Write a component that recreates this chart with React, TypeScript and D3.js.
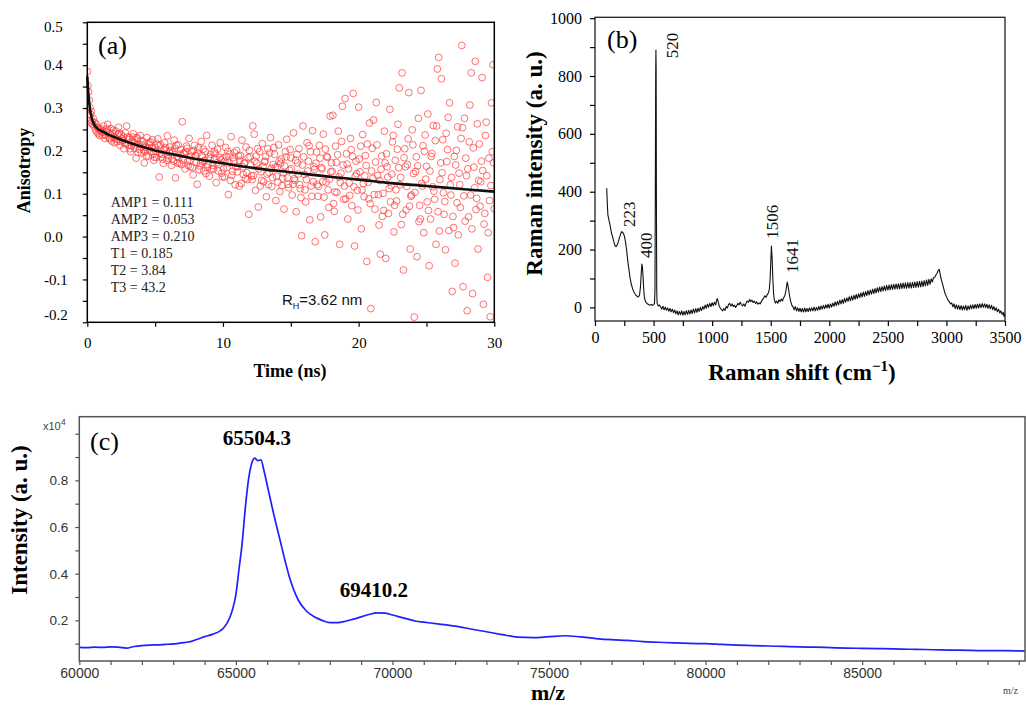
import React, { useEffect, useRef } from 'react';
import * as d3 from 'd3';

const serif = '"Liberation Serif", "Times New Roman", serif';
const sans = '"Liberation Sans", Arial, sans-serif';

// ---------- (a) fluorescence anisotropy decay ----------
const anisoPoints: [number, number][] = [
  [0, 0.385], [0.05, 0.352], [0.1, 0.338], [0.1, 0.285], [0.15, 0.318], [0.2, 0.301], [0.25, 0.285], [0.3, 0.292],
  [0.3, 0.265], [0.35, 0.27], [0.4, 0.262], [0.45, 0.275], [0.5, 0.258], [0.55, 0.266], [0.6, 0.249], [0.65, 0.262],
  [0.7, 0.244], [0.75, 0.255], [0.8, 0.24], [0.85, 0.251], [0.9, 0.236], [0.95, 0.248],
  [1.0, 0.252], [1.1, 0.236], [1.2, 0.258], [1.3, 0.229], [1.4, 0.245], [1.5, 0.262], [1.6, 0.231], [1.7, 0.24], [1.8, 0.223], [1.9, 0.248],
  [2.0, 0.219], [2.1, 0.246], [2.2, 0.227], [2.3, 0.255], [2.4, 0.213], [2.5, 0.238], [2.6, 0.224], [2.7, 0.205], [2.8, 0.242], [2.9, 0.258],
  [3.0, 0.213], [3.1, 0.231], [3.2, 0.198], [3.3, 0.222], [3.4, 0.24], [3.5, 0.206], [3.6, 0.183], [3.7, 0.228], [3.8, 0.215], [3.9, 0.236],
  [4.0, 0.195], [4.1, 0.222], [4.2, 0.172], [4.3, 0.209], [4.4, 0.231], [4.5, 0.188], [4.6, 0.214], [4.7, 0.199], [4.8, 0.226], [4.9, 0.178],
  [5.0, 0.207], [5.1, 0.185], [5.2, 0.228], [5.3, 0.139], [5.4, 0.214], [5.5, 0.192], [5.6, 0.171], [5.7, 0.219], [5.8, 0.201], [5.9, 0.235],
  [6.0, 0.182], [6.1, 0.209], [6.2, 0.166], [6.3, 0.198], [6.4, 0.225], [6.5, 0.137], [6.6, 0.187], [6.7, 0.214], [6.8, 0.171], [6.9, 0.203],
  [7.0, 0.268], [7.1, 0.195], [7.2, 0.158], [7.3, 0.211], [7.4, 0.176], [7.5, 0.229], [7.6, 0.163], [7.7, 0.198], [7.8, 0.144], [7.9, 0.213],
  [8.0, 0.189], [8.1, 0.122], [8.2, 0.207], [8.3, 0.165], [8.4, 0.222], [8.5, 0.175], [8.6, 0.153], [8.7, 0.198], [8.8, 0.236], [8.9, 0.168],
  [9.0, 0.141], [9.1, 0.192], [9.2, 0.213], [9.3, 0.157], [9.4, 0.181], [9.5, 0.126], [9.6, 0.204], [9.7, 0.169], [9.8, 0.219], [9.9, 0.148],
  [10.0, 0.183], [10.1, 0.139], [10.2, 0.208], [10.3, 0.161], [10.4, 0.098], [10.5, 0.192], [10.6, 0.233], [10.7, 0.152], [10.8, 0.176], [10.9, 0.121],
  [11.0, 0.201], [11.1, 0.163], [11.2, 0.118], [11.3, 0.189], [11.4, 0.225], [11.5, 0.145], [11.6, 0.172], [11.7, 0.209], [11.8, 0.133], [11.9, 0.052],
  [12.0, 0.186], [12.1, 0.142], [12.2, 0.258], [12.3, 0.239], [12.4, 0.108], [12.5, 0.171], [12.6, 0.069], [12.7, 0.198], [12.8, 0.151], [12.9, 0.217],
  [13.0, 0.128], [13.1, 0.176], [13.2, 0.093], [13.3, 0.205], [13.4, 0.149], [13.5, 0.231], [13.6, 0.117], [13.7, 0.168], [13.8, 0.192], [13.9, 0.084],
  [14.0, 0.162], [14.1, 0.214], [14.2, 0.105], [14.3, 0.181], [14.4, 0.136], [14.5, 0.064], [14.6, 0.198], [14.7, 0.227], [14.8, 0.122], [14.9, 0.155],
  [15.0, 0.184], [15.1, 0.097], [15.2, 0.242], [15.3, 0.131], [15.4, 0.058], [15.5, 0.172], [15.6, 0.205], [15.7, 0.112], [15.8, 0.002], [15.9, 0.258],
  [16.0, 0.145], [16.1, 0.081], [16.2, 0.219], [16.3, 0.176], [16.4, 0.039], [16.5, 0.118], [16.6, 0.247], [16.7, 0.163], [16.8, -0.012], [16.9, 0.197],
  [17.0, 0.094], [17.1, 0.213], [17.2, 0.046], [17.3, 0.158], [17.4, 0.239], [17.5, 0.004], [17.6, 0.127], [17.7, 0.185], [17.8, 0.068], [17.9, 0.281],
  [18.0, 0.172], [18.1, 0.283], [18.2, 0.059], [18.3, 0.211], [18.4, 0.103], [18.5, 0.246], [18.6, -0.018], [18.7, 0.148], [18.8, 0.304], [18.9, 0.087],
  [19.0, 0.322], [19.1, 0.193], [19.2, 0.041], [19.3, 0.125], [19.4, 0.229], [19.5, 0.072], [19.6, 0.334], [19.7, -0.022], [19.8, 0.176], [19.9, 0.108],
  [20.0, 0.302], [20.1, 0.151], [20.2, 0.018], [20.3, 0.238], [20.4, 0.093], [20.5, 0.189], [20.6, -0.058], [20.7, 0.127], [20.8, 0.265], [20.9, -0.168],
  [21.0, 0.206], [21.1, 0.272], [21.2, 0.064], [21.3, 0.313], [21.4, 0.142], [21.5, 0.027], [21.6, -0.041], [21.7, 0.188], [21.8, 0.101], [21.9, 0.246],
  [22.0, -0.051], [22.1, 0.163], [22.2, 0.054], [22.3, 0.297], [22.4, 0.119], [22.5, 0.221], [22.6, 0.011], [22.7, 0.178], [22.8, 0.083], [22.9, 0.262],
  [23.0, 0.347], [23.1, 0.138], [23.2, 0.382], [23.3, -0.078], [23.4, 0.205], [23.5, 0.062], [23.6, 0.168], [23.7, 0.336], [23.8, -0.029], [23.9, 0.097],
  [24.0, 0.214], [24.1, -0.188], [24.2, 0.152], [24.3, -0.047], [24.4, 0.276], [24.5, 0.073], [24.6, 0.341], [24.7, 0.118], [24.8, 0.009], [24.9, 0.237],
  [25.0, 0.164], [25.1, 0.286], [25.2, -0.068], [25.3, 0.041], [25.4, 0.194], [25.5, 0.259], [25.6, 0.087], [25.7, -0.018], [25.8, 0.391], [25.9, 0.418],
  [26.0, 0.133], [26.1, 0.368], [26.2, 0.226], [26.3, 0.052], [26.4, -0.031], [26.5, 0.175], [26.6, 0.278], [26.7, 0.312], [26.8, 0.097], [26.9, -0.128],
  [27.0, 0.021], [27.1, -0.062], [27.2, 0.201], [27.3, 0.256], [27.4, 0.148], [27.5, 0.068], [27.6, 0.446], [27.7, -0.117], [27.8, 0.276], [27.9, 0.183],
  [28.0, -0.173], [28.1, 0.046], [28.2, 0.307], [28.3, 0.382], [28.4, -0.133], [28.5, 0.162], [28.6, 0.409], [28.7, 0.089], [28.8, -0.029], [28.9, 0.216],
  [29.0, 0.128], [29.1, 0.371], [29.2, -0.158], [29.3, 0.054], [29.4, 0.267], [29.5, -0.095], [29.6, 0.183], [29.7, -0.187], [29.8, 0.312], [29.9, 0.401], [30.0, 0.065],
  [1.05, 0.244], [1.25, 0.239], [1.45, 0.251], [1.65, 0.228], [1.85, 0.241], [2.05, 0.229], [2.25, 0.238], [2.45, 0.222], [2.65, 0.233], [2.85, 0.216],
  [3.05, 0.226], [3.25, 0.212], [3.45, 0.219], [3.65, 0.231], [3.85, 0.203], [4.05, 0.214], [4.25, 0.198], [4.45, 0.207], [4.65, 0.221], [4.85, 0.193],
  [5.05, 0.199], [5.25, 0.212], [5.45, 0.186], [5.65, 0.203], [5.85, 0.178], [6.05, 0.197], [6.25, 0.181], [6.45, 0.206], [6.65, 0.172], [6.85, 0.192],
  [7.05, 0.178], [7.25, 0.199], [7.45, 0.166], [7.65, 0.187], [7.85, 0.201], [8.05, 0.173], [8.25, 0.156], [8.45, 0.189], [8.65, 0.178], [8.85, 0.162],
  [9.05, 0.182], [9.25, 0.166], [9.45, 0.194], [9.65, 0.153], [9.85, 0.179], [10.05, 0.158], [10.25, 0.187], [10.45, 0.172], [10.65, 0.143], [10.85, 0.196],
  [11.05, 0.151], [11.25, 0.178], [11.45, 0.163], [11.65, 0.136], [11.85, 0.184], [12.05, 0.167], [12.25, 0.142], [12.45, 0.188], [12.65, 0.158], [12.85, 0.131],
  [13.05, 0.174], [13.25, 0.146], [13.45, 0.195], [13.65, 0.138], [13.85, 0.162], [14.05, 0.127], [14.25, 0.171], [14.45, 0.149], [14.65, 0.186], [14.85, 0.114],
  [15.05, 0.158], [15.25, 0.135], [15.45, 0.192], [15.65, 0.121], [15.85, 0.167], [16.05, 0.109], [16.25, 0.153], [16.45, 0.198], [16.65, 0.128], [16.85, 0.171],
  [17.05, 0.117], [17.25, 0.161], [17.45, 0.092], [17.65, 0.187], [17.85, 0.134], [18.05, 0.152], [18.25, 0.104], [18.45, 0.191], [18.65, 0.126], [18.85, 0.167],
  [19.05, 0.088], [19.25, 0.158], [19.45, 0.203], [19.65, 0.116], [19.85, 0.147], [20.05, 0.181], [20.25, 0.109], [20.45, 0.142], [20.65, 0.216], [20.85, 0.077],
  [21.05, 0.136], [21.25, 0.174], [21.45, 0.098], [21.65, 0.157], [21.85, 0.061], [22.05, 0.193], [22.25, 0.112], [22.45, 0.146], [22.65, 0.073], [22.85, 0.204],
  [23.05, 0.121], [23.25, 0.052], [23.45, 0.163], [23.65, 0.228], [23.85, 0.094], [24.05, 0.147], [24.25, 0.186], [24.45, 0.035], [24.65, 0.124], [24.85, 0.199],
  [25.05, 0.081], [25.25, 0.153], [25.45, 0.116], [25.65, 0.224], [25.85, 0.058], [26.05, 0.172], [26.25, 0.102], [26.45, 0.241], [26.65, 0.014], [26.85, 0.138],
  [27.05, 0.187], [27.25, 0.079], [27.45, 0.121], [27.65, 0.254], [27.85, 0.036], [28.05, 0.158], [28.25, 0.097], [28.45, 0.207], [28.65, 0.063], [28.85, 0.131],
  [29.05, 0.176], [29.25, 0.029], [29.45, 0.142], [29.65, 0.084], [29.85, 0.198],
  [1.15, 0.247], [1.35, 0.236], [1.55, 0.243], [1.75, 0.252], [1.95, 0.232], [2.15, 0.221], [2.35, 0.241], [2.55, 0.228], [2.75, 0.219], [2.95, 0.232],
  [3.15, 0.205], [3.35, 0.232], [3.55, 0.214], [3.75, 0.196], [3.95, 0.224], [4.15, 0.203], [4.35, 0.188], [4.55, 0.219], [4.75, 0.207], [4.95, 0.185],
  [5.15, 0.216], [5.35, 0.194], [5.55, 0.181], [5.75, 0.208], [5.95, 0.189], [6.15, 0.201], [6.35, 0.176], [6.55, 0.213], [6.75, 0.184], [6.95, 0.168],
  [7.15, 0.193], [7.35, 0.206], [7.55, 0.177], [7.75, 0.161], [7.95, 0.189], [8.15, 0.195], [8.35, 0.171], [8.55, 0.204], [8.75, 0.147], [8.95, 0.186],
  [9.15, 0.158], [9.35, 0.198], [9.55, 0.172], [9.75, 0.185], [9.95, 0.139], [10.15, 0.176], [10.35, 0.199], [10.55, 0.131], [10.75, 0.184], [10.95, 0.163],
  [11.15, 0.188], [11.35, 0.124], [11.55, 0.171], [11.75, 0.149], [11.95, 0.201], [12.15, 0.133], [12.35, 0.176], [12.55, 0.205], [12.75, 0.118], [12.95, 0.164],
  [13.15, 0.187], [13.35, 0.121], [13.55, 0.159], [13.75, 0.208], [13.95, 0.141], [14.15, 0.176], [14.35, 0.119], [14.55, 0.165], [14.75, 0.137], [14.95, 0.203],
  [15.15, 0.122], [15.35, 0.178], [15.55, 0.146], [15.75, 0.091], [15.95, 0.186], [16.15, 0.133], [16.35, 0.212], [16.55, 0.094], [16.75, 0.157], [16.95, 0.121],
  [17.15, 0.183], [17.35, 0.128], [17.55, 0.204], [17.75, 0.109], [17.95, 0.151], [18.15, 0.077], [18.35, 0.173], [18.55, 0.139], [18.75, 0.222], [18.95, 0.118],
  [19.15, 0.169], [19.35, 0.096], [19.55, 0.187], [19.75, 0.141], [19.95, 0.062], [20.15, 0.211], [20.35, 0.124], [20.55, 0.166], [20.75, 0.088], [20.95, 0.153],
  [21.15, 0.098], [21.35, 0.214], [21.55, 0.131], [21.75, 0.047], [21.95, 0.172], [22.15, 0.139], [22.35, 0.081], [22.55, 0.236], [22.75, 0.109], [22.95, 0.161],
  [23.15, 0.028], [23.35, 0.184], [23.55, 0.117], [23.75, 0.071], [23.95, 0.249], [24.15, 0.103], [24.35, 0.165], [24.55, 0.041], [24.75, 0.212], [24.95, 0.134],
  [25.15, 0.061], [25.35, 0.187], [25.55, 0.106], [25.75, 0.258], [25.95, 0.013], [26.15, 0.149], [26.35, 0.082], [26.55, 0.203], [26.75, 0.121], [26.95, 0.047],
  [27.15, 0.167], [27.35, 0.004], [27.55, 0.229], [27.75, 0.095], [27.95, 0.142], [28.15, 0.221], [28.35, 0.018], [28.55, 0.114], [28.75, 0.263], [28.95, 0.071],
  [29.15, 0.154], [29.35, 0.236], [29.55, 0.009], [29.75, 0.119], [29.95, 0.172],
];
const fitTime = [0, 0.05, 0.1, 0.2, 0.3, 0.4, 0.5, 0.75, 1, 1.5, 2, 3, 4, 5, 6, 8, 10, 12, 15, 18, 20, 22, 25, 28, 30];
const fitAniso = [0.374, 0.347, 0.326, 0.297, 0.28, 0.269, 0.262, 0.252, 0.247, 0.239, 0.232, 0.22, 0.21, 0.201, 0.194, 0.181, 0.171, 0.161, 0.15, 0.139, 0.133, 0.126, 0.118, 0.11, 0.105];
const fitParams = ['AMP1 = 0.111', 'AMP2 = 0.053', 'AMP3 = 0.210', 'T1 = 0.185', 'T2 = 3.84', 'T3 = 43.2'];
const timeTicks = [0, 10, 20, 30];
const timeMinor = [5, 15, 25];
const anisoTicks = [-0.2, -0.1, 0, 0.1, 0.2, 0.3, 0.4, 0.5];
const anisoMinor = [-0.15, -0.05, 0.05, 0.15, 0.25, 0.35, 0.45];

// ---------- (b) Raman spectrum ----------
const ramanPoints: [number, number][] = [
  [100, 412], [105, 360], [110, 320], [120, 300], [130, 282], [140, 258], [150, 245], [160, 228], [170, 214], [180, 210], [190, 216],
  [200, 228], [210, 242], [220, 255], [230, 262], [240, 258], [250, 248], [260, 228], [270, 198], [280, 160], [290, 130], [300, 100],
  [310, 80], [320, 66], [330, 55], [340, 48], [350, 42], [360, 38], [370, 36], [380, 42], [388, 70], [395, 120], [400, 150], [405, 140],
  [410, 108], [415, 70], [420, 40], [425, 28], [432, 20], [440, 15], [450, 12], [460, 9], [470, 8], [480, 10], [490, 7], [500, 9],
  [508, 14], [512, 60], [515, 400], [518, 800], [520, 890], [522, 820], [524, 400], [527, 60], [530, 15], [540, 5], [550, 8],
  [560, 2], [570, -6], [580, 4], [590, -8], [600, 1], [610, -10], [620, -2], [630, -13], [640, -4], [650, -15], [660, -6], [670, -18],
  [680, -9], [690, -22], [700, -12], [710, -26], [720, -14], [730, -25], [740, -12], [750, -27], [760, -14], [770, -26], [780, -11],
  [790, -24], [800, -10], [810, -23], [820, -9], [830, -21], [840, -6], [850, -19], [860, -4], [870, -17], [880, -3], [890, -14],
  [900, 0], [910, -11], [920, 3], [930, -6], [940, 8], [950, -3], [960, 11], [970, 1], [980, 14], [990, 3], [1000, 16], [1010, 6],
  [1020, 18], [1030, 9], [1040, 28], [1045, 30], [1050, 22], [1060, 5], [1070, -2], [1080, -8], [1090, -12], [1100, -4], [1110, -10], [1120, 3],
  [1130, -2], [1140, 10], [1150, 14], [1160, 5], [1170, 12], [1180, 3], [1190, 8], [1200, 0], [1210, 6], [1220, 14], [1230, 9],
  [1240, 18], [1250, 10], [1260, 5], [1270, 12], [1280, 4], [1290, 15], [1300, 22], [1310, 18], [1320, 27], [1330, 20], [1340, 25],
  [1350, 17], [1360, 22], [1370, 14], [1380, 19], [1390, 11], [1400, 16], [1410, 12], [1420, 20], [1430, 27], [1440, 33], [1450, 40],
  [1460, 35], [1470, 44], [1480, 50], [1488, 62], [1495, 98], [1500, 150], [1506, 212], [1512, 170], [1518, 100], [1524, 50], [1530, 28],
  [1540, 15], [1550, 22], [1560, 14], [1570, 26], [1580, 20], [1590, 29], [1600, 22], [1610, 33], [1620, 40], [1630, 58], [1641, 88],
  [1650, 70], [1660, 42], [1670, 22], [1680, 8], [1690, 2], [1700, -8], [1710, 3], [1720, -12], [1730, -1], [1740, -14], [1750, -3],
  [1760, -15], [1770, -4], [1780, -16], [1790, -2], [1800, -15], [1810, -4], [1820, -14], [1830, -2], [1840, -13], [1850, -1],
  [1860, -12], [1870, 1], [1880, -12], [1890, 0], [1900, -10], [1910, 3], [1920, -8], [1930, 5], [1940, -6], [1950, 7], [1960, -4],
  [1970, 9], [1980, -2], [1990, 11], [2000, -2], [2010, 12], [2020, 1], [2030, 15], [2040, 4], [2050, 19], [2060, 6], [2070, 21],
  [2080, 9], [2090, 25], [2100, 12], [2110, 27], [2120, 14], [2130, 31], [2140, 18], [2150, 33], [2160, 21], [2170, 37], [2180, 23],
  [2190, 39], [2200, 25], [2210, 42], [2220, 28], [2230, 45], [2240, 30], [2250, 47], [2260, 34], [2270, 50], [2280, 36], [2290, 53],
  [2300, 38], [2310, 55], [2320, 41], [2330, 58], [2340, 43], [2350, 60], [2360, 46], [2370, 63], [2380, 48], [2390, 65], [2400, 50],
  [2410, 68], [2420, 53], [2430, 70], [2440, 55], [2450, 72], [2460, 57], [2470, 74], [2480, 58], [2490, 76], [2500, 60], [2510, 77],
  [2520, 61], [2530, 79], [2540, 62], [2550, 80], [2560, 63], [2570, 81], [2580, 64], [2590, 82], [2600, 64], [2610, 83], [2620, 65],
  [2630, 84], [2640, 66], [2650, 85], [2660, 66], [2670, 86], [2680, 67], [2690, 86], [2700, 67], [2710, 87], [2720, 68], [2730, 88],
  [2740, 69], [2750, 89], [2760, 70], [2770, 90], [2780, 71], [2790, 91], [2800, 72], [2810, 93], [2820, 74], [2830, 95], [2840, 76],
  [2850, 97], [2860, 80], [2870, 99], [2880, 88], [2890, 103], [2900, 104], [2910, 112], [2920, 118], [2930, 128], [2938, 132],
  [2945, 118], [2955, 98], [2965, 84], [2975, 68], [2985, 52], [2995, 42], [3005, 33], [3015, 24], [3025, 19], [3035, 12],
  [3045, 16], [3055, 2], [3065, 12], [3075, -4], [3085, 9], [3095, -6], [3105, 7], [3115, -8], [3125, 6], [3135, -9], [3145, 5],
  [3155, -8], [3165, 7], [3175, -10], [3185, 5], [3195, -7], [3205, 8], [3215, -5], [3225, 9], [3235, -4], [3245, 10], [3255, -3],
  [3265, 11], [3275, -2], [3285, 12], [3295, -1], [3305, 13], [3315, 0], [3325, 12], [3335, -1], [3345, 11], [3355, -3], [3365, 9],
  [3375, -5], [3385, 7], [3395, -8], [3405, 3], [3415, -11], [3425, -1], [3435, -15], [3445, -6], [3455, -19], [3465, -12],
  [3475, -24], [3485, -17], [3490, -30], [3495, -22], [3500, -32],
];
const ramanLabels = [
  { text: '223', shift: 341, intensity: 278 },
  { text: '400', shift: 487, intensity: 171 },
  { text: '520', shift: 709, intensity: 861 },
  { text: '1506', shift: 1562, intensity: 237 },
  { text: '1641', shift: 1733, intensity: 119 },
];
const shiftTicks = [0, 500, 1000, 1500, 2000, 2500, 3000, 3500];
const shiftMinor = [250, 750, 1250, 1750, 2250, 2750, 3250];
const ramanTicks = [0, 200, 400, 600, 800, 1000];
const ramanMinor = [100, 300, 500, 700, 900];

// ---------- (c) mass spectrum ----------
const msPoints: [number, number][] = [
  [60000, 0.084], [60250, 0.083], [60500, 0.085], [60750, 0.084], [61000, 0.086], [61250, 0.085], [61500, 0.081], [61750, 0.088],
  [62000, 0.092], [62250, 0.094], [62500, 0.095], [62750, 0.097], [63000, 0.099], [63250, 0.103], [63500, 0.107], [63750, 0.118],
  [64000, 0.13], [64250, 0.14], [64500, 0.155], [64600, 0.166], [64800, 0.21], [64900, 0.25], [65000, 0.31], [65100, 0.42],
  [65200, 0.53], [65300, 0.68], [65400, 0.8], [65500, 0.87], [65600, 0.895], [65700, 0.885], [65800, 0.888], [65900, 0.84],
  [66000, 0.78], [66100, 0.72], [66200, 0.66], [66400, 0.55], [66600, 0.44], [66700, 0.39], [67000, 0.285], [67250, 0.24],
  [67500, 0.215], [67750, 0.2], [68000, 0.19], [68250, 0.19], [68500, 0.196], [68750, 0.205], [69000, 0.215], [69250, 0.225],
  [69500, 0.232], [69750, 0.231], [70000, 0.223], [70250, 0.214], [70500, 0.205], [70750, 0.196], [71000, 0.192], [71500, 0.184],
  [72000, 0.175], [72500, 0.163], [73000, 0.151], [73500, 0.139], [74000, 0.128], [74500, 0.126], [75000, 0.13], [75500, 0.134],
  [76000, 0.129], [76500, 0.122], [77000, 0.117], [77500, 0.114], [78000, 0.109], [78500, 0.106], [79000, 0.103], [79500, 0.101],
  [80000, 0.1], [80500, 0.097], [81000, 0.094], [81500, 0.092], [82000, 0.09], [82500, 0.088], [83000, 0.086], [83500, 0.085],
  [84000, 0.083], [84500, 0.081], [85000, 0.08], [85500, 0.079], [86000, 0.078], [86500, 0.076], [87000, 0.075], [87500, 0.073],
  [88000, 0.072], [88500, 0.071], [89000, 0.07], [89500, 0.07], [90000, 0.069], [90200, 0.068],
];
const msLabels = [
  { text: '65504.3', mz: 65674, value: 0.952 },
  { text: '69410.2', mz: 69409, value: 0.3 },
];
const mzTicks = [60000, 65000, 70000, 75000, 80000, 85000];
const mzMinor = [61000, 62000, 63000, 64000, 66000, 67000, 68000, 69000, 71000, 72000, 73000, 74000, 76000, 77000, 78000, 79000,
  81000, 82000, 83000, 84000, 86000, 87000, 88000, 89000, 90000];
const msTicks = [0.2, 0.4, 0.6, 0.8];
const msMinor = [0.1, 0.3, 0.5, 0.7, 0.9, 1.0];

const App = () => {
  const svgRef = useRef<SVGSVGElement>(null);

  useEffect(() => {
    const svg = d3.select(svgRef.current);
    svg.selectAll('*').remove();

    const styleTicks = (g: any, family: string, size: number, color: string) => {
      g.attr('font-family', family).attr('font-size', size);
      g.select('.domain').remove();
      g.selectAll('line').attr('stroke', color).attr('stroke-width', 1.2);
      g.selectAll('text').attr('fill', color === '#555' ? '#333' : '#000');
    };

    // ===== panel (a) =====
    const ax = d3.scaleLinear().domain([0, 30]).range([87.3, 494.3]);
    const ay = d3.scaleLinear().domain([-0.2, 0.5]).range([322.3, 22.3]);
    const a = svg.append('g');

    a.append('clipPath').attr('id', 'clipA').append('rect')
      .attr('x', 87.3).attr('y', 22.3).attr('width', 407).attr('height', 300);

    a.append('g').attr('clip-path', 'url(#clipA)')
      .selectAll('circle').data(anisoPoints).join('circle')
      .attr('cx', d => ax(d[0]))
      .attr('cy', d => ay(d[1]))
      .attr('r', 3.4)
      .attr('fill', 'none')
      .attr('stroke', '#ff3b3b')
      .attr('stroke-opacity', 0.8)
      .attr('stroke-width', 0.9);

    const fitLine = d3.line<number>()
      .x(d => ax(d))
      .y((d, i) => ay(fitAniso[i]))
      .curve(d3.curveMonotoneX);
    a.append('path').datum(fitTime)
      .attr('fill', 'none').attr('stroke', '#111').attr('stroke-width', 2.6)
      .attr('d', fitLine);

    a.append('rect').attr('x', 87.3).attr('y', 22.3).attr('width', 407).attr('height', 300)
      .attr('fill', 'none').attr('stroke', '#000').attr('stroke-width', 1.5);

    const axB = a.append('g').attr('transform', 'translate(0,322.3)')
      .call(d3.axisBottom(ax).tickValues(timeTicks).tickSize(4.5).tickSizeOuter(0).tickFormat(d3.format('d')));
    styleTicks(axB, serif, 15, '#000');
    axB.selectAll('text').attr('y', 25.7).attr('dy', 0);
    const axBm = a.append('g').attr('transform', 'translate(0,322.3)')
      .call(d3.axisBottom(ax).tickValues(timeMinor).tickSize(4.5).tickSizeOuter(0).tickFormat(() => ''));
    styleTicks(axBm, serif, 15, '#000');

    const axL = a.append('g').attr('transform', 'translate(87.3,0)')
      .call(d3.axisLeft(ay).tickValues(anisoTicks).tickSize(4.5).tickSizeOuter(0).tickFormat(d3.format('.1f')));
    styleTicks(axL, serif, 15, '#000');
    axL.selectAll('text')
      .attr('text-anchor', 'start').attr('x', -43.3)
      .attr('dy', (d: any) => (d === 0.5 ? '0.62em' : d === -0.2 ? '-0.17em' : '0.32em'))
      .text((d: any) => d3.format('.1f')(d).replace('−', '-'));
    const axLm = a.append('g').attr('transform', 'translate(87.3,0)')
      .call(d3.axisLeft(ay).tickValues(anisoMinor).tickSize(4.5).tickSizeOuter(0).tickFormat(() => ''));
    styleTicks(axLm, serif, 15, '#000');

    a.append('text').attr('x', 98).attr('y', 54)
      .attr('font-family', serif).attr('font-size', 26).text('(a)');

    a.append('g').selectAll('text').data(fitParams).join('text')
      .attr('x', 110.7).attr('y', (d, i) => 207.3 + i * 16.9)
      .attr('font-family', serif).attr('font-size', 14).attr('fill', '#222')
      .text(d => d);

    const rh = a.append('text').attr('x', 282).attr('y', 305)
      .attr('font-family', sans).attr('font-size', 15).attr('fill', '#111');
    rh.append('tspan').text('R');
    rh.append('tspan').attr('dy', 4).attr('font-size', 9).text('H');
    rh.append('tspan').attr('dy', -4).text('=3.62 nm');

    a.append('text').attr('transform', 'translate(30,170.5) rotate(-90)')
      .attr('text-anchor', 'middle').attr('font-family', serif).attr('font-size', 18)
      .attr('font-weight', 'bold').text('Anisotropy');
    a.append('text').attr('x', 290).attr('y', 377)
      .attr('text-anchor', 'middle').attr('font-family', serif).attr('font-size', 18)
      .attr('font-weight', 'bold').text('Time (ns)');

    // ===== panel (b) =====
    const bx = d3.scaleLinear().domain([0, 3500]).range([595, 1005]);
    const by = d3.scaleLinear().domain([-47, 1003]).range([321, 17.3]);
    const b = svg.append('g');

    const ramanLine = d3.line<[number, number]>().x(d => bx(d[0])).y(d => by(d[1]));
    b.append('path').datum(ramanPoints)
      .attr('fill', 'none').attr('stroke', '#111').attr('stroke-width', 1.1)
      .attr('stroke-linejoin', 'round').attr('d', ramanLine);

    b.append('rect').attr('x', 595).attr('y', 17.3).attr('width', 410).attr('height', 303.7)
      .attr('fill', 'none').attr('stroke', '#222').attr('stroke-width', 1.3);

    const bxB = b.append('g').attr('transform', 'translate(0,321)')
      .call(d3.axisBottom(bx).tickValues(shiftTicks).tickSize(5).tickSizeOuter(0).tickFormat(d3.format('d')));
    styleTicks(bxB, serif, 16, '#000');
    bxB.selectAll('text').attr('y', 22.3).attr('dy', 0);
    const bxBm = b.append('g').attr('transform', 'translate(0,321)')
      .call(d3.axisBottom(bx).tickValues(shiftMinor).tickSize(5).tickSizeOuter(0).tickFormat(() => ''));
    styleTicks(bxBm, serif, 16, '#000');

    const byL = b.append('g').attr('transform', 'translate(595,0)')
      .call(d3.axisLeft(by).tickValues(ramanTicks).tickSize(5).tickSizeOuter(0).tickFormat(d3.format('d')));
    styleTicks(byL, serif, 16, '#000');
    byL.selectAll('text').attr('x', -13);
    const byLm = b.append('g').attr('transform', 'translate(595,0)')
      .call(d3.axisLeft(by).tickValues(ramanMinor).tickSize(5).tickSizeOuter(0).tickFormat(() => ''));
    styleTicks(byLm, serif, 16, '#000');

    b.append('g').selectAll('text').data(ramanLabels).join('text')
      .attr('transform', d => `translate(${bx(d.shift)},${by(d.intensity)}) rotate(-90)`)
      .attr('font-family', serif).attr('font-size', 17).attr('fill', '#111')
      .text(d => d.text);

    b.append('text').attr('x', 607).attr('y', 48)
      .attr('font-family', serif).attr('font-size', 26).text('(b)');

    b.append('text').attr('transform', 'translate(542,163.5) rotate(-90)')
      .attr('text-anchor', 'middle').attr('font-family', serif).attr('font-size', 23)
      .attr('font-weight', 'bold').text('Raman intensity (a. u.)');
    const bLab = b.append('text').attr('x', 802).attr('y', 380)
      .attr('text-anchor', 'middle').attr('font-family', serif).attr('font-size', 23)
      .attr('font-weight', 'bold');
    bLab.append('tspan').text('Raman shift (cm');
    bLab.append('tspan').attr('dy', -9).attr('font-size', 15).text('\u22121');
    bLab.append('tspan').attr('dy', 9).text(')');

    // ===== panel (c) =====
    const cx = d3.scaleLinear().domain([60000, 90200]).range([79.3, 1025]);
    const cy = d3.scaleLinear().domain([0.0257, 1.0729]).range([661, 416.7]);
    const c = svg.append('g');

    const msLine = d3.line<[number, number]>().x(d => cx(d[0])).y(d => cy(d[1])).curve(d3.curveMonotoneX);
    c.append('path').datum(msPoints)
      .attr('fill', 'none').attr('stroke', '#1f1fff').attr('stroke-width', 1.7)
      .attr('d', msLine);

    c.append('rect').attr('x', 79.3).attr('y', 416.7).attr('width', 945.7).attr('height', 244.3)
      .attr('fill', 'none').attr('stroke', '#555').attr('stroke-width', 1.5);

    const cxB = c.append('g').attr('transform', 'translate(0,661)')
      .call(d3.axisBottom(cx).tickValues(mzTicks).tickSize(4).tickSizeOuter(0).tickFormat(d3.format('d')));
    styleTicks(cxB, sans, 14, '#555');
    cxB.selectAll('text').attr('y', 17.3).attr('dy', 0);
    const cxBm = c.append('g').attr('transform', 'translate(0,661)')
      .call(d3.axisBottom(cx).tickValues(mzMinor).tickSize(4).tickSizeOuter(0).tickFormat(() => ''));
    styleTicks(cxBm, sans, 14, '#555');

    const cyL = c.append('g').attr('transform', 'translate(79.3,0)')
      .call(d3.axisLeft(cy).tickValues(msTicks).tickSize(4).tickSizeOuter(0).tickFormat(d3.format('.1f')));
    styleTicks(cyL, sans, 13.5, '#555');
    cyL.selectAll('text').attr('x', -11);
    const cyLm = c.append('g').attr('transform', 'translate(79.3,0)')
      .call(d3.axisLeft(cy).tickValues(msMinor).tickSize(4).tickSizeOuter(0).tickFormat(() => ''));
    styleTicks(cyLm, sans, 13.5, '#555');

    const exp = c.append('text').attr('x', 43).attr('y', 430)
      .attr('font-family', sans).attr('font-size', 11).attr('fill', '#444');
    exp.append('tspan').text('x10');
    exp.append('tspan').attr('dy', -5).attr('font-size', 9).text('4');

    c.append('g').selectAll('text').data(msLabels).join('text')
      .attr('x', d => cx(d.mz)).attr('y', d => cy(d.value))
      .attr('text-anchor', 'middle').attr('font-family', serif).attr('font-size', 21)
      .attr('font-weight', 'bold').text(d => d.text);

    c.append('text').attr('x', 90).attr('y', 450)
      .attr('font-family', serif).attr('font-size', 26).text('(c)');

    c.append('text').attr('transform', 'translate(27,520) rotate(-90)')
      .attr('text-anchor', 'middle').attr('font-family', serif).attr('font-size', 23)
      .attr('font-weight', 'bold').text('Intensity (a. u.)');
    c.append('text').attr('x', 548).attr('y', 700)
      .attr('text-anchor', 'middle').attr('font-family', serif).attr('font-size', 22)
      .attr('font-weight', 'bold').text('m/z');
    c.append('text').attr('x', 1003).attr('y', 694)
      .attr('font-family', serif).attr('font-size', 10).attr('fill', '#444').text('m/z');
  }, []);

  return (
    <svg
      ref={svgRef}
      width={1026}
      height={707}
      style={{ position: 'absolute', left: 0, top: 0, background: '#fff' }}
    ></svg>
  );
};

export default App;
